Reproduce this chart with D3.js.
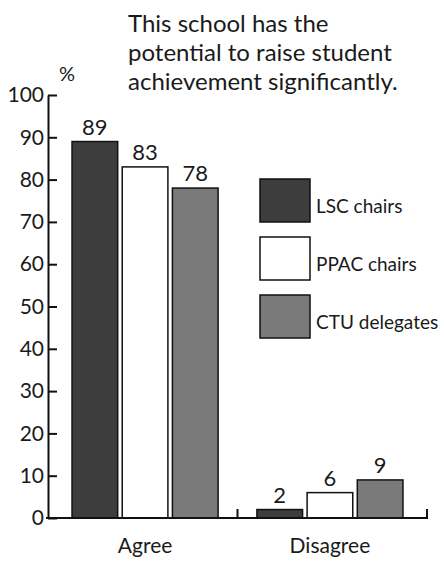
<!DOCTYPE html>
<html>
<head>
<meta charset="utf-8">
<script src="https://cdn.jsdelivr.net/npm/d3@7"></script>
<style>
  body { margin: 0; background: #fff; }
  text { font-family: Lato, "Noto Sans", sans-serif; fill: #1a1a1a; }
</style>
</head>
<body>
<div id="chart"></div>
<script>
// Survey share answering the statement, by respondent group.
const categories = ['Agree', 'Disagree'];
const seriesNames = ['LSC chairs', 'PPAC chairs', 'CTU delegates'];
const lscValues = [89, 2];
const ppacValues = [83, 6];
const ctuValues = [78, 9];
const yTicks = [0, 10, 20, 30, 40, 50, 60, 70, 80, 90, 100];
const titleLines = ['This school has the', 'potential to raise student', 'achievement significantly.'];

const colors = ['#3d3d3d', '#ffffff', '#7a7a7a'];

const width = 444, height = 561;
const svg = d3.select('#chart').append('svg').attr('width', width).attr('height', height);

const seriesValues = [lscValues, ppacValues, ctuValues];
const rows = categories.map((c, i) => ({
  category: c,
  values: seriesNames.map((s, j) => ({ series: s, idx: j, value: seriesValues[j][i] }))
}));

// Group scale spans the whole baseline; inner scale places the three bars.
const x0 = d3.scaleBand().domain(categories).range([48, 427]).paddingInner(0.21).paddingOuter(0.13);
const x1 = d3.scaleBand().domain(seriesNames).range([0, x0.bandwidth()]).paddingInner(0.09);
const y = d3.scaleLinear().domain([0, 100]).range([518, 95]);

// Title
svg.append('g').selectAll('text')
  .data(titleLines)
  .enter().append('text')
  .attr('x', 128)
  .attr('y', (d, i) => 32 + i * 29)
  .style('font-size', '24px')
  .text(d => d);

// Y axis with ticks pointing into the plot
const yAxis = svg.append('g')
  .attr('transform', `translate(${x0.range()[0]},0)`)
  .call(d3.axisLeft(y).tickValues(yTicks).tickSizeInner(-9).tickSizeOuter(0).tickPadding(4));
yAxis.select('.domain').attr('stroke', '#111').attr('stroke-width', 2);
yAxis.selectAll('.tick line').attr('stroke', '#111').attr('stroke-width', 2);
yAxis.selectAll('.tick text').style('font-size', '21px').style('font-family', 'Lato, sans-serif').attr('fill', '#1a1a1a');

svg.append('text').attr('x', 59).attr('y', 81).style('font-size', '20px').text('%');

// Bars
const groups = svg.append('g').selectAll('g')
  .data(rows)
  .enter().append('g')
  .attr('transform', d => `translate(${x0(d.category)},0)`);

groups.selectAll('rect')
  .data(d => d.values)
  .enter().append('rect')
  .attr('x', d => x1(d.series))
  .attr('y', d => y(d.value))
  .attr('width', x1.bandwidth())
  .attr('height', d => y(0) - y(d.value))
  .attr('fill', d => colors[d.idx])
  .attr('stroke', '#111')
  .attr('stroke-width', 1.5);

groups.selectAll('text.val')
  .data(d => d.values)
  .enter().append('text')
  .attr('class', 'val')
  .attr('x', d => x1(d.series) + x1.bandwidth() / 2)
  .attr('y', d => y(d.value) - 7)
  .attr('text-anchor', 'middle')
  .style('font-size', '22px')
  .text(d => d.value);

// Baseline with group separator ticks
const base = y(0);
const sep = x0('Disagree') - x0.step() * x0.paddingInner() / 2;
const xEnd = x0.range()[1];
svg.append('path')
  .attr('d', `M${x0.range()[0] - 2},${base}H${xEnd}V${base - 9}M${sep},${base}V${base - 9}`)
  .attr('fill', 'none')
  .attr('stroke', '#111')
  .attr('stroke-width', 2);

svg.append('g').selectAll('text')
  .data(categories)
  .enter().append('text')
  .attr('x', d => x0(d) + x0.bandwidth() / 2)
  .attr('y', 553)
  .attr('text-anchor', 'middle')
  .style('font-size', '21px')
  .text(d => d);

// Legend
const legend = svg.append('g').attr('transform', 'translate(260,179)');
const item = legend.selectAll('g')
  .data(seriesNames)
  .enter().append('g')
  .attr('transform', (d, i) => `translate(0,${i * 58})`);
item.append('rect')
  .attr('width', 50).attr('height', 43)
  .attr('fill', (d, i) => colors[i])
  .attr('stroke', '#111').attr('stroke-width', 1.5);
item.append('text')
  .attr('x', 56).attr('y', 34)
  .style('font-size', '19px')
  .text(d => d);
</script>
</body>
</html>
